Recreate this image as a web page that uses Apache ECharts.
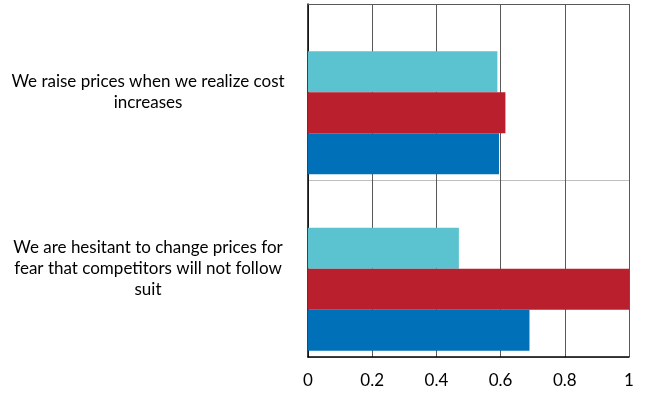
<!DOCTYPE html>
<html>
<head>
<meta charset="utf-8">
<script src="https://cdn.jsdelivr.net/npm/echarts@6/dist/echarts.min.js"></script>
<style>
  html, body { margin: 0; padding: 0; background: #ffffff; }
  #chart { width: 648px; height: 394px; }
</style>
</head>
<body>
<div id="chart"></div>
<script>
// Statements, listed top to bottom (line breaks as they wrap on the axis)
const categories = [
  "We raise prices when we realize cost\nincreases",
  "We are hesitant to change prices for\nfear that competitors will not follow\nsuit"
];

// Response shares per statement, one array per series
const seriesCyan = [0.59, 0.47];
const seriesRed  = [0.615, 1.0];
const seriesBlue = [0.595, 0.69];

// Value axis ticks
const valueTicks = [0, 0.2, 0.4, 0.6, 0.8, 1];

const FONT = "Lato, 'Liberation Sans', sans-serif";

const chart = echarts.init(document.getElementById('chart'), null, { renderer: 'canvas' });

function barSeries(name, values, color) {
  return {
    name: name,
    type: 'bar',
    data: values,
    barGap: '0%',
    barCategoryGap: '7%',
    itemStyle: { color: color },
    emphasis: { disabled: true },
    silent: true
  };
}

chart.setOption({
  animation: false,
  backgroundColor: '#ffffff',
  grid: { left: 308, right: 19, top: 4, bottom: 37, containLabel: false },
  xAxis: [
    {
      type: 'value',
      min: valueTicks[0],
      max: valueTicks[valueTicks.length - 1],
      interval: valueTicks[1] - valueTicks[0],
      axisLine: { show: true, lineStyle: { color: '#000000', width: 1.5 } },
      axisTick: { show: false },
      axisLabel: {
        margin: 15,
        color: '#000000',
        fontFamily: FONT,
        fontSize: 17,
        formatter: function (v) { return String(+v.toFixed(1)); }
      },
      splitLine: { show: true, lineStyle: { color: '#595959', width: 1 } }
    },
    {
      type: 'value',
      position: 'top',
      min: valueTicks[0],
      max: valueTicks[valueTicks.length - 1],
      axisLine: { show: true, onZero: false, lineStyle: { color: '#595959', width: 1 } },
      axisTick: { show: false },
      axisLabel: { show: false },
      splitLine: { show: false }
    }
  ],
  yAxis: {
    type: 'category',
    inverse: true,
    data: categories,
    axisLine: { show: true, lineStyle: { color: '#000000', width: 1.5 } },
    axisTick: { show: false },
    axisLabel: {
      margin: 160,
      align: 'center',
      color: '#000000',
      fontFamily: FONT,
      fontSize: 17,
      lineHeight: 21
    },
    splitLine: { show: true, lineStyle: { color: '#BFBFBF', width: 1 } }
  },
  series: [
    // unused slot kept empty so the three bars sit low in each band
    { name: 'Blank', type: 'bar', data: [], barGap: '0%', barCategoryGap: '7%', silent: true },
    barSeries('Series 3', seriesCyan, '#5BC2D0'),
    barSeries('Series 2', seriesRed, '#BA1F2D'),
    barSeries('Series 1', seriesBlue, '#0070B8')
  ]
});
</script>
</body>
</html>
